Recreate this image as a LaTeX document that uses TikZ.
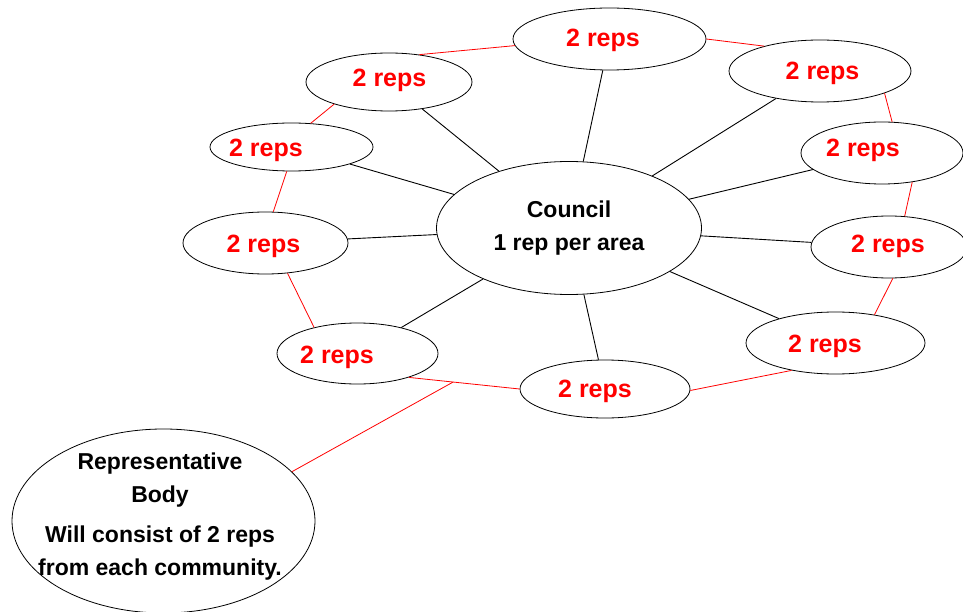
\documentclass[tikz,border=0pt]{standalone}
\usepackage{fontspec}
\setmainfont{Liberation Sans}
\usetikzlibrary{shapes.geometric,calc}
\definecolor{repred}{RGB}{255,0,0}
\begin{document}
\begin{tikzpicture}[x=1pt,y=-1pt,
  ell/.style={ellipse,draw=black,line width=0.8pt,inner sep=0pt},
  reptext/.style={anchor=base,inner sep=0pt,text=repred,font=\fontsize{25}{30}\selectfont\bfseries},
  spoke/.style={draw=black,line width=0.9pt},
  ring/.style={draw=repred,line width=0.8pt},
  bodytext/.style={align=center,font=\fontsize{23}{33}\selectfont\bfseries}]
\useasboundingbox (0,0) rectangle (963,612);
% council
\node[ell,minimum width=265pt,minimum height=133pt,bodytext] (C) at (569,228) {Council\\1 rep per area};
% reps ring
\node[ell,minimum width=193pt,minimum height=62pt] (E1) at (609.5,39) {};
\node[ell,minimum width=166pt,minimum height=58pt] (E2) at (389,82) {};
\node[ell,minimum width=163pt,minimum height=48pt] (E3) at (291.5,147) {};
\node[ell,minimum width=165pt,minimum height=62pt] (E4) at (265.5,243) {};
\node[ell,minimum width=161pt,minimum height=61pt] (E5) at (357.5,353.5) {};
\node[ell,minimum width=170pt,minimum height=58pt] (E6) at (605,389) {};
\node[ell,minimum width=182pt,minimum height=62pt] (E7) at (820,71) {};
\node[ell,minimum width=162pt,minimum height=62pt] (E8) at (882,153) {};
\node[ell,minimum width=156pt,minimum height=62pt] (E9) at (889,247) {};
\node[ell,minimum width=179pt,minimum height=62pt] (E10) at (835.5,343) {};
% labels
\node[reptext] (T1) at (603,47) {2 reps};
\node[reptext] (T2) at (389.5,87) {2 reps};
\node[reptext] (T3) at (266,157) {2 reps};
\node[reptext] (T4) at (263.5,252) {2 reps};
\node[reptext] (T5) at (337,363) {2 reps};
\node[reptext] (T6) at (595,397) {2 reps};
\node[reptext] (T7) at (822.5,80) {2 reps};
\node[reptext] (T8) at (863,157) {2 reps};
\node[reptext] (T9) at (888,253) {2 reps};
\node[reptext] (T10) at (825,352) {2 reps};
% representative body
\node[ell,minimum width=303pt,minimum height=184pt] (RB) at (163.5,521) {};
\node[bodytext] (RBt) at (160,516.5) {Representative\\Body\\[7pt]Will consist of 2 reps\\from each community.};
% spokes
\foreach \e in {E1,E2,E3,E4,E5,E6,E7,E8,E9,E10}
  \draw[spoke] (C) -- (\e);
% red ring
\draw[ring] (E2.42) -- (E1.184);
\draw[ring] (E1.east) -- (E7.156);
\draw[ring] (E7.341) -- (E8.72);
\draw[ring] (E8.316) -- (E9.63);
\draw[ring] (E9.277) -- (E10.36);
\draw[ring] (E10.212) -- (E6.-1);
\draw[ring] (E6.west) -- (E5.335);
\draw[ring] (E5.149) -- (E4.306);
\draw[ring] (E4.76) -- (E3.259);
\draw[ring] (E3.51) -- (E2.202);
\coordinate (J) at ($(E5.335)!0.4!(E6.west)$);
\draw[ring] (J) -- (RB.21);
\end{tikzpicture}
\end{document}
